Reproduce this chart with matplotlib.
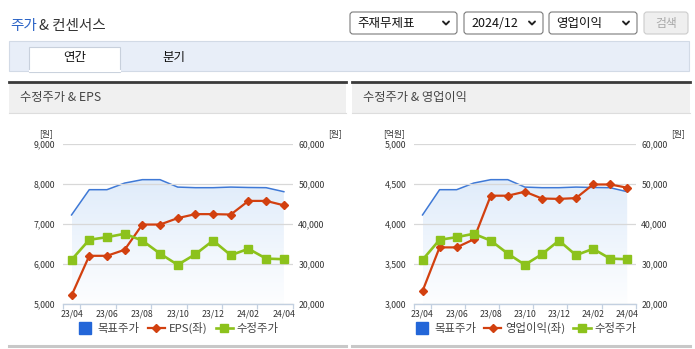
import matplotlib
matplotlib.use("Agg")
import matplotlib.pyplot as plt
from matplotlib.patches import Rectangle, FancyBboxPatch
from matplotlib.lines import Line2D
import numpy as np

plt.rcParams['font.family'] = ['Noto Sans CJK KR', 'DejaVu Sans']

W, H = 695, 349

months = ["23/04", "23/05", "23/06", "23/07", "23/08", "23/09", "23/10",
          "23/11", "23/12", "24/01", "24/02", "24/03", "24/04"]
tick_labels = ["23/04", "23/06", "23/08", "23/10", "23/12", "24/02", "24/04"]

# 목표주가 (원, right axis)
target_price = [42300, 48600, 48600, 50250, 51100, 51100, 49250,
                49100, 49100, 49250, 49150, 49100, 48100]
# 수정주가 (원, right axis)
adj_price = [31100, 36100, 36750, 37600, 35900, 32650, 29850,
             32500, 35900, 32250, 33850, 31400, 31250]
# EPS (원, left axis)
eps = [5220, 6210, 6210, 6360, 6990, 6990, 7150,
       7250, 7250, 7240, 7580, 7580, 7470]
# 영업이익 (억원, left axis)
op_income = [3165, 3710, 3710, 3810, 4355, 4355, 4405,
             4320, 4315, 4325, 4495, 4495, 4455]

eps_ticks = [5000, 6000, 7000, 8000, 9000]
op_ticks = [3000, 3500, 4000, 4500, 5000]
price_ticks = [20000, 30000, 40000, 50000, 60000]

BLUE = "#3f79d6"
BLUE_SQ = "#2366d8"
RED = "#d2400f"
GREEN = "#8cc21c"
GRID = "#d8d8d8"
AXIS = "#c3d0e0"
TXT = "#333333"


def rect(x0, y0, x1, y1):
    return [x0 / W, 1 - y1 / H, (x1 - x0) / W, (y1 - y0) / H]


fig = plt.figure(figsize=(W / 100, H / 100), dpi=100)
fig.patch.set_facecolor("white")

bg = fig.add_axes([0, 0, 1, 1])
bg.set_xlim(0, W)
bg.set_ylim(H, 0)
bg.axis("off")
bg.set_zorder(-10)

# page header
bg.text(10, 26, "주가", color="#2b63c6", fontsize=10.5, va="center", ha="left")
bg.text(39, 26, "& 컨센서스", color="#333333", fontsize=10.5, va="center", ha="left")

# dropdowns
for x0, x1, label in [(350, 457, "주재무제표"), (464, 543, "2024/12"), (549, 637, "영업이익")]:
    bg.add_patch(FancyBboxPatch((x0, 12), x1 - x0, 22, boxstyle="round,pad=0,rounding_size=3",
                                fc="white", ec="#7a7a7a", lw=0.8))
    bg.text(x0 + 7, 23.5, label, fontsize=9, va="center", ha="left", color="#111111")
    cx = x1 - 11
    bg.plot([cx - 3, cx, cx + 3], [21.5, 24.5, 21.5], color="#222222", lw=1.4,
            solid_capstyle="round", solid_joinstyle="round")
bg.add_patch(FancyBboxPatch((644, 12), 44, 22, boxstyle="round,pad=0,rounding_size=3",
                            fc="#efefef", ec="#cccccc", lw=0.8))
bg.text(666, 23.5, "검색", fontsize=8.5, va="center", ha="center", color="#a8a8a8")

# tab bar
bg.add_patch(Rectangle((9, 41), 680, 30, fc="#e8eef8", ec="#d2dae6", lw=0.8))
bg.add_patch(Rectangle((29, 46.5), 91, 25, fc="white", ec="#c8d0dc", lw=0.8))
bg.plot([29.5, 119.5], [71, 71], color="white", lw=1.5)
bg.text(74.5, 58, "연간", fontsize=9, va="center", ha="center", color="#111111")
bg.text(174, 58, "분기", fontsize=9, va="center", ha="center", color="#111111")

# panel headers
for x0, x1, title in [(9, 346, "수정주가 & EPS"), (352, 690, "수정주가 & 영업이익")]:
    bg.add_patch(Rectangle((x0, 82), x1 - x0, 31, fc="#f0f0f0", ec="none"))
    bg.plot([x0, x1], [81.5, 81.5], color="#3a3a3a", lw=2)
    bg.plot([x0, x1], [113, 113], color="#dddddd", lw=0.8)
    bg.text(x0 + 11, 98, title, fontsize=8.8, va="center", ha="left", color="#444444")
    bg.plot([x0, x1], [345.5, 345.5], color="#c8c8c8", lw=2.2)

x = np.arange(len(months))


def panel(x0, x1, left_vals, left_ticks, left_unit, left_name, unit_x):
    box = rect(x0, 144, x1, 304.3)
    axR = fig.add_axes(box)
    axL = axR.twinx()
    axG = axR.twinx()

    axR.set_zorder(1)
    axL.set_zorder(2)
    axG.set_zorder(3)
    axL.patch.set_visible(False)
    axG.patch.set_visible(False)

    for a in (axR, axL, axG):
        for s in a.spines.values():
            s.set_visible(False)

    axR.set_ylim(price_ticks[0], price_ticks[-1])
    axG.set_ylim(price_ticks[0], price_ticks[-1])
    axL.set_ylim(left_ticks[0], left_ticks[-1])

    # y axes: left values on the left side, prices on the right side
    axR.yaxis.tick_right()
    axR.set_yticks(price_ticks)
    axR.set_yticklabels([f"{v:,}" for v in price_ticks])
    axR.tick_params(axis="y", length=0, pad=4, labelsize=6.3, labelcolor=TXT)
    axL.yaxis.tick_left()
    axL.set_yticks(left_ticks)
    axL.set_yticklabels([f"{v:,}" for v in left_ticks])
    axL.tick_params(axis="y", length=0, pad=5.5, labelsize=6.3, labelcolor=TXT)
    axL.grid(axis="y", color=GRID, lw=0.9)
    axG.set_yticks([])

    # x axis (shared by the twins)
    axR.set_xticks(x[::2])
    axR.set_xticklabels(tick_labels)
    axR.tick_params(axis="x", length=0, pad=4, labelsize=6.3, labelcolor=TXT)
    axR.set_xticks([-0.5, 0.5, 2.5, 4.5, 6.5, 8.5, 10.5, 12.5], minor=True)
    axR.tick_params(axis="x", which="minor", length=3.5, color=AXIS, width=0.9)
    axR.spines["bottom"].set_visible(True)
    axR.spines["bottom"].set_color(AXIS)
    axR.spines["bottom"].set_linewidth(1)

    # gradient area under 목표주가
    poly = axR.fill_between(x, target_price, price_ticks[0], color="none", lw=0)
    grad = np.linspace(0, 1, 256).reshape(-1, 1)
    cmap = matplotlib.colors.LinearSegmentedColormap.from_list(
        "g", ["#fdfeff", "#e0ecfa"])
    im = axR.imshow(grad, extent=[x[0], x[-1], price_ticks[0], max(target_price)],
                    origin="lower", aspect="auto", cmap=cmap, zorder=0)
    im.set_clip_path(poly.get_paths()[0], transform=axR.transData)
    axR.plot(x, target_price, color=BLUE, lw=1.1, zorder=3)
    axR.set_xlim(-0.5, len(months) - 0.5)
    axR.set_ylim(price_ticks[0], price_ticks[-1])

    axL.plot(x, left_vals, color=RED, lw=1.6, marker="D", ms=4.2, mec=RED, mfc=RED)
    axG.plot(x, adj_price, color=GREEN, lw=1.9, marker="s", ms=6, mec=GREEN, mfc=GREEN)

    # units
    bg.text(unit_x, 133.5, left_unit, fontsize=6.3, ha="center", va="center", color=TXT)
    bg.text(x1 + 42, 133.5, "[원]", fontsize=6.3, ha="center", va="center", color=TXT)

    handles = [
        Line2D([], [], ls="none", marker="s", ms=8.5, mfc=BLUE_SQ, mec=BLUE_SQ),
        Line2D([], [], color=RED, lw=1.6, marker="D", ms=4),
        Line2D([], [], color=GREEN, lw=1.9, marker="s", ms=5.5),
    ]
    axG.legend(handles, ["목표주가", left_name, "수정주가"], loc="center",
               bbox_to_anchor=(0.5, -0.148), ncol=3, frameon=False, fontsize=8.2,
               handlelength=1.5, handletextpad=0.35, columnspacing=0.7,
               labelcolor="#444444")


panel(62.7, 292.7, eps, eps_ticks, "[원]", "EPS(좌)", 46)
panel(414, 635.7, op_income, op_ticks, "[억원]", "영업이익(좌)", 394)

fig.savefig("out.png", dpi=100)
